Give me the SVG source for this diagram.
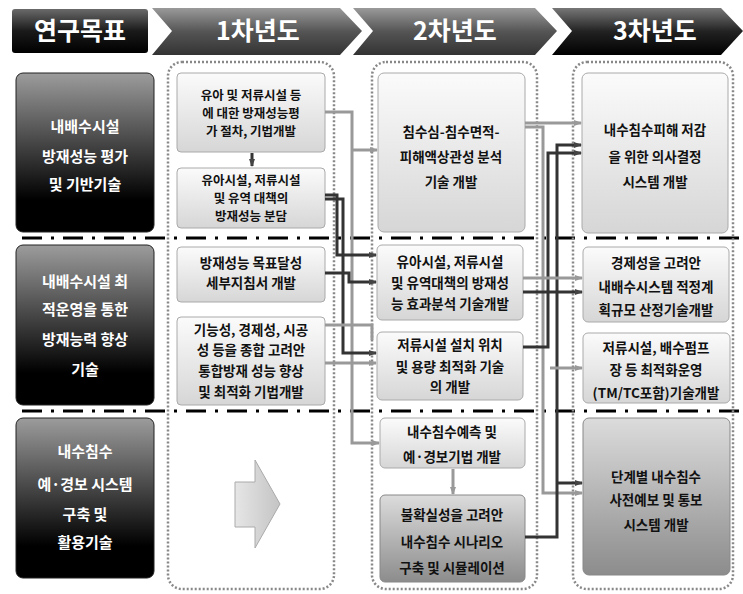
<svg xmlns="http://www.w3.org/2000/svg" width="743" height="594" viewBox="0 0 743 594">
<defs>
<linearGradient id="gHdr" x1="0" y1="0" x2="0" y2="1"><stop offset="0" stop-color="#6a6a6a"/><stop offset="0.5" stop-color="#1a1a1a"/><stop offset="1" stop-color="#000"/></linearGradient>
<linearGradient id="gChev" x1="0" y1="0" x2="0" y2="1"><stop offset="0" stop-color="#9a9a9a"/><stop offset="0.5" stop-color="#555"/><stop offset="1" stop-color="#333"/></linearGradient>
<linearGradient id="gChev3" x1="0" y1="0" x2="0" y2="1"><stop offset="0" stop-color="#777"/><stop offset="0.5" stop-color="#222"/><stop offset="1" stop-color="#000"/></linearGradient>
<linearGradient id="gLeft" x1="0" y1="0" x2="0" y2="1"><stop offset="0" stop-color="#9c9c9c"/><stop offset="0.45" stop-color="#444"/><stop offset="0.8" stop-color="#000"/><stop offset="1" stop-color="#000"/></linearGradient>
<linearGradient id="gLight" x1="0" y1="0" x2="0" y2="1"><stop offset="0" stop-color="#fbfbfb"/><stop offset="1" stop-color="#d6d6d6"/></linearGradient>
<linearGradient id="gDark" x1="0" y1="0" x2="0" y2="1"><stop offset="0" stop-color="#dcdcdc"/><stop offset="1" stop-color="#8c8c8c"/></linearGradient>
<linearGradient id="gBig" x1="0" y1="0" x2="1" y2="0"><stop offset="0" stop-color="#e6e6e6"/><stop offset="1" stop-color="#c4c4c4"/></linearGradient>
<marker id="aG" markerWidth="8" markerHeight="8" refX="7" refY="4" orient="auto" markerUnits="userSpaceOnUse"><path d="M0,1 L8,4 L0,7 z" fill="#999"/></marker>
<marker id="aD" markerWidth="8" markerHeight="8" refX="7" refY="4" orient="auto" markerUnits="userSpaceOnUse"><path d="M0,1 L8,4 L0,7 z" fill="#444"/></marker>
</defs>
<style>
.hdr{font-family:"Noto Sans CJK KR","Noto Sans",sans-serif;font-weight:bold;font-size:25px;fill:#fff;text-anchor:middle}
.lt{font-family:"Noto Sans CJK KR","Noto Sans",sans-serif;font-weight:bold;font-size:15px;fill:#fff;text-anchor:middle}
.bt{font-family:"Noto Sans CJK KR","Noto Sans",sans-serif;font-weight:bold;font-size:13.5px;fill:#111;text-anchor:middle}
.st{font-family:"Noto Sans CJK KR","Noto Sans",sans-serif;font-weight:bold;font-size:12.5px;fill:#111;text-anchor:middle}
.lbox{fill:url(#gLeft);stroke:#222;stroke-width:1}
.box{fill:url(#gLight);stroke:#aaa;stroke-width:1}
.dbox{fill:url(#gDark);stroke:#888;stroke-width:1}
.cont{fill:none;stroke:#888;stroke-width:2.5;stroke-dasharray:2 2}
.sep{stroke:#000;stroke-width:3;stroke-dasharray:20 9 3 9;fill:none}
.cg{fill:none;stroke:#999;stroke-width:3}
.cd{fill:none;stroke:#333;stroke-width:3}
</style>

<g id="header">
<rect x="12" y="9" width="136" height="44" rx="3" fill="url(#gHdr)"/>
<text class="hdr" x="80" y="40">연구목표</text>
<path d="M152,8 L340,8 L362,31 L340,55 L152,55 L172,31 Z" fill="url(#gChev)"/>
<text class="hdr" x="258" y="40">1차년도</text>
<path d="M353,8 L535,8 L557,31 L535,55 L353,55 L373,31 Z" fill="url(#gChev)"/>
<text class="hdr" x="455" y="40">2차년도</text>
<path d="M552,8 L721,8 L743,31 L721,55 L552,55 L572,31 Z" fill="url(#gChev3)"/>
<text class="hdr" x="655" y="40">3차년도</text>
</g>

<g id="separators">
<line class="sep" x1="22" y1="238" x2="740" y2="238"/>
<line class="sep" x1="22" y1="411" x2="740" y2="411"/>
</g>

<g id="containers">
<rect class="cont" x="168" y="62" width="166" height="527" rx="14"/>
<rect class="cont" x="372" y="62" width="165" height="527" rx="14"/>
<rect class="cont" x="573" y="62" width="160" height="527" rx="14"/>
</g>

<g id="goal1">
<rect class="lbox" x="16" y="73" width="138" height="159" rx="7"/>
<text class="lt" x="85" y="132">내배수시설</text>
<text class="lt" x="85" y="162">방재성능 평가</text>
<text class="lt" x="85" y="190">및 기반기술</text>
</g>
<g id="goal2">
<rect class="lbox" x="16" y="245" width="138" height="160" rx="7"/>
<text class="lt" x="85" y="287">내배수시설 최</text>
<text class="lt" x="85" y="315">적운영을 통한</text>
<text class="lt" x="85" y="345">방재능력 향상</text>
<text class="lt" x="85" y="375">기술</text>
</g>
<g id="goal3">
<rect class="lbox" x="16" y="418" width="138" height="160" rx="7"/>
<text class="lt" x="85" y="457">내수침수</text>
<text class="lt" x="85" y="490">예·경보 시스템</text>
<text class="lt" x="85" y="520">구축 및</text>
<text class="lt" x="85" y="548">활용기술</text>
</g>

<g id="y1a">
<rect class="box" x="177" y="73" width="148" height="79" rx="4"/>
<text class="st" x="251" y="100">유아 및 저류시설 등</text>
<text class="st" x="251" y="118">에 대한 방재성능평</text>
<text class="st" x="251" y="136">가 절차, 기법개발</text>
</g>
<g id="y1b">
<rect class="box" x="177" y="168" width="148" height="60" rx="4"/>
<text class="st" x="251" y="185">유아시설, 저류시설</text>
<text class="st" x="251" y="203">및 유역 대책의</text>
<text class="st" x="251" y="221">방재성능 분담</text>
</g>
<g id="y1c">
<rect class="box" x="177" y="247" width="148" height="55" rx="4"/>
<text class="bt" x="251" y="268">방재성능 목표달성</text>
<text class="bt" x="251" y="288">세부지침서 개발</text>
</g>
<g id="y1d">
<rect class="box" x="177" y="317" width="148" height="88" rx="4"/>
<text class="bt" x="251" y="335">기능성, 경제성, 시공</text>
<text class="bt" x="251" y="355">성 등을 종합 고려안</text>
<text class="bt" x="251" y="376">통합방재 성능 향상</text>
<text class="bt" x="251" y="397">및 최적화 기법개발</text>
</g>
<g id="y1arrow">
<path d="M235,482 L255,482 L255,460 L280,504 L255,548 L255,527 L235,527 Z" fill="url(#gBig)" stroke="#aaa" stroke-width="1"/>
</g>

<g id="y2a">
<rect class="box" x="378" y="73" width="147" height="159" rx="6"/>
<text class="bt" x="451" y="137">침수심-침수면적-</text>
<text class="bt" x="451" y="162">피해액상관성 분석</text>
<text class="bt" x="451" y="187">기술 개발</text>
</g>
<g id="y2b">
<rect class="box" x="377" y="245" width="146" height="75" rx="5"/>
<text class="bt" x="450" y="267">유아시설, 저류시설</text>
<text class="bt" x="450" y="288">및 유역대책의 방재성</text>
<text class="bt" x="450" y="309">능 효과분석 기술개발</text>
</g>
<g id="y2c">
<rect class="box" x="377" y="332" width="146" height="68" rx="5"/>
<text class="bt" x="450" y="350">저류시설 설치 위치</text>
<text class="bt" x="450" y="372">및 용량 최적화 기술</text>
<text class="bt" x="450" y="392">의 개발</text>
</g>
<g id="y2d">
<rect class="box" x="380" y="418" width="145" height="50" rx="5"/>
<text class="bt" x="452" y="437">내수침수예측 및</text>
<text class="bt" x="452" y="462">예·경보기법 개발</text>
</g>
<g id="y2e">
<rect class="dbox" x="380" y="495" width="145" height="87" rx="5"/>
<text class="bt" x="452" y="520">불확실성을 고려안</text>
<text class="bt" x="452" y="547">내수침수 시나리오</text>
<text class="bt" x="452" y="573">구축 및 시뮬레이션</text>
</g>

<g id="y3a">
<rect class="box" x="582" y="73" width="146" height="160" rx="6"/>
<text class="bt" x="655" y="135">내수침수피해 저감</text>
<text class="bt" x="655" y="162">을 위한 의사결정</text>
<text class="bt" x="655" y="187">시스템 개발</text>
</g>
<g id="y3b">
<rect class="box" x="583" y="247" width="146" height="75" rx="5"/>
<text class="bt" x="656" y="268">경제성을 고려안</text>
<text class="bt" x="656" y="292">내배수시스템 적정계</text>
<text class="bt" x="656" y="315">획규모 산정기술개발</text>
</g>
<g id="y3c">
<rect class="box" x="583" y="333" width="147" height="70" rx="5"/>
<text class="bt" x="656" y="353">저류시설, 배수펌프</text>
<text class="bt" x="656" y="375">장 등 최적화운영</text>
<text class="bt" x="656" y="398">(TM/TC포함)기술개발</text>
</g>
<g id="y3d">
<rect class="dbox" x="583" y="418" width="147" height="157" rx="6"/>
<text class="bt" x="656" y="482">단계별 내수침수</text>
<text class="bt" x="656" y="505">사전예보 및 통보</text>
<text class="bt" x="656" y="530">시스템 개발</text>
</g>

<g id="connectors">
<path class="cd" d="M252,153 L252,166" marker-end="url(#aD)" stroke-width="2"/>
<path class="cg" d="M453,469 L453,494" marker-end="url(#aG)" stroke-width="2"/>
<path class="cg" d="M325,112 L352,112 L352,443 L379,443" marker-end="url(#aG)"/>
<path class="cg" d="M352,150 L377,150" marker-end="url(#aG)"/>
<path class="cd" d="M325,195 L337,195 L337,255 L376,255" marker-end="url(#aD)"/>
<path class="cd" d="M325,199 L343,199 L343,353 L376,353" marker-end="url(#aD)"/>
<path class="cd" d="M325,273 L349,273 L349,282 L376,282" marker-end="url(#aD)"/>
<path class="cg" d="M325,325 L372,325 L372,340"/>
<path class="cg" d="M325,363 L376,363" marker-end="url(#aG)"/>
<path class="cg" d="M525,123 L581,123" marker-end="url(#aG)"/>
<path class="cg" d="M525,127 L543,127 L543,493 L582,493" marker-end="url(#aG)"/>
<path class="cd" d="M523,347 L548,347 L548,153 L581,153" marker-end="url(#aD)"/>
<path class="cd" d="M525,537 L557,537 L557,145 L581,145" marker-end="url(#aD)"/>
<path class="cg" d="M523,278 L582,278" marker-end="url(#aG)"/>
<path class="cd" d="M523,292 L582,292" marker-end="url(#aD)"/>
<path class="cg" d="M550,368 L582,368" marker-end="url(#aG)"/>
<path class="cd" d="M557,483 L582,483" marker-end="url(#aD)"/>
</g>
</svg>
